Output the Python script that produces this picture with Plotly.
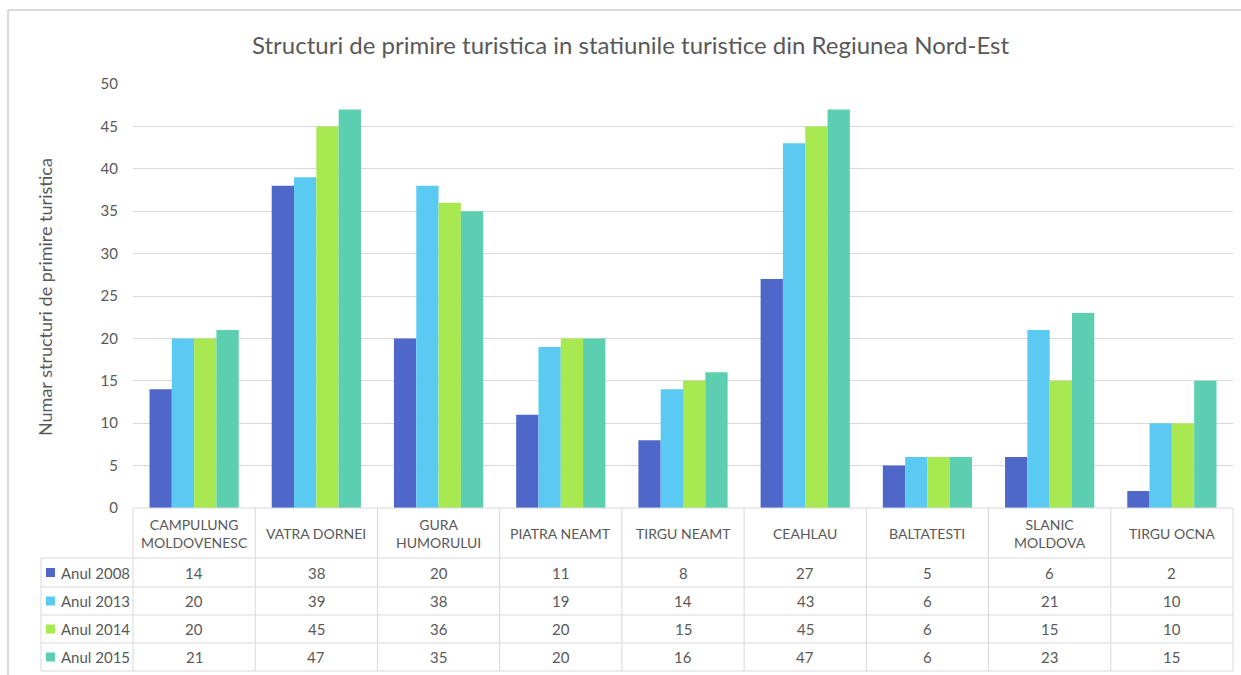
import plotly.graph_objects as go

# Data
categories = ["CAMPULUNG MOLDOVENESC", "VATRA DORNEI", "GURA HUMORULUI", "PIATRA NEAMT",
              "TIRGU NEAMT", "CEAHLAU", "BALTATESTI", "SLANIC MOLDOVA", "TIRGU OCNA"]
category_labels = ["CAMPULUNG<br>MOLDOVENESC", "VATRA DORNEI", "GURA<br>HUMORULUI", "PIATRA NEAMT",
                   "TIRGU NEAMT", "CEAHLAU", "BALTATESTI", "SLANIC<br>MOLDOVA", "TIRGU OCNA"]
series_names = ["Anul 2008", "Anul 2013", "Anul 2014", "Anul 2015"]
anul_2008 = [14, 38, 20, 11, 8, 27, 5, 6, 2]
anul_2013 = [20, 39, 38, 19, 14, 43, 6, 21, 10]
anul_2014 = [20, 45, 36, 20, 15, 45, 6, 15, 10]
anul_2015 = [21, 47, 35, 20, 16, 47, 6, 23, 15]
series_values = [anul_2008, anul_2013, anul_2014, anul_2015]
colors = ["#4F67C8", "#5BCAF2", "#A8E850", "#5BCFB0"]

W, H = 1241, 675
FONT = "Lato"
TXT = "#595959"
GRID = "#D9D9D9"


def px(x):
    return x / W


def py(y):
    return 1 - y / H


# Layout geometry (pixels)
PLOT_L, PLOT_R = 133, 1233
AXIS_Y, TOP_Y = 508, 84
HEADER_B = 558
ROW_LINES = [558, 587, 615, 643, 671]
LEG_L = 41

fig = go.Figure()
for name, vals, col in zip(series_names, series_values, colors):
    fig.add_trace(go.Bar(x=categories, y=vals, name=name, marker=dict(color=col, line=dict(width=0)),
                         showlegend=False))

shapes = []
# outer chart border
shapes.append(dict(type="line", xref="paper", yref="paper", x0=px(8), x1=1, y0=py(10), y1=py(10),
                   line=dict(color=GRID, width=2)))
shapes.append(dict(type="line", xref="paper", yref="paper", x0=px(8), x1=px(8), y0=py(10), y1=0,
                   line=dict(color=GRID, width=2)))
# table horizontal lines
shapes.append(dict(type="line", xref="paper", yref="paper", x0=px(PLOT_L), x1=px(PLOT_R),
                   y0=py(AXIS_Y), y1=py(AXIS_Y), line=dict(color=GRID, width=1)))
for yl in ROW_LINES:
    shapes.append(dict(type="line", xref="paper", yref="paper", x0=px(LEG_L), x1=px(PLOT_R),
                       y0=py(yl), y1=py(yl), line=dict(color=GRID, width=1)))
# table vertical lines
col_w = (PLOT_R - PLOT_L) / len(categories)
for i in range(len(categories) + 1):
    xl = PLOT_L + i * col_w
    shapes.append(dict(type="line", xref="paper", yref="paper", x0=px(xl), x1=px(xl),
                       y0=py(AXIS_Y), y1=py(ROW_LINES[-1]), line=dict(color=GRID, width=1)))
shapes.append(dict(type="line", xref="paper", yref="paper", x0=px(LEG_L), x1=px(LEG_L),
                   y0=py(HEADER_B), y1=py(ROW_LINES[-1]), line=dict(color=GRID, width=1)))

annotations = []
# category header cells
for cat, lab in zip(categories, category_labels):
    annotations.append(dict(x=cat, xref="x", y=py((AXIS_Y + HEADER_B) / 2), yref="paper",
                            text=lab, showarrow=False, xanchor="center", yanchor="middle",
                            font=dict(family=FONT, size=14, color=TXT)))
# data rows with legend keys
for r, (name, vals, col) in enumerate(zip(series_names, series_values, colors)):
    yc = (ROW_LINES[r] + ROW_LINES[r + 1]) / 2
    shapes.append(dict(type="rect", xref="paper", yref="paper", x0=px(46), x1=px(55),
                       y0=py(yc - 4.5), y1=py(yc + 4.5), fillcolor=col, line=dict(width=0)))
    annotations.append(dict(x=px(59), xref="paper", y=py(yc), yref="paper", text=name,
                            showarrow=False, xanchor="left", yanchor="middle",
                            font=dict(family=FONT, size=15, color=TXT)))
    for cat, v in zip(categories, vals):
        annotations.append(dict(x=cat, xref="x", y=py(yc), yref="paper", text=str(v),
                                showarrow=False, xanchor="center", yanchor="middle",
                                font=dict(family=FONT, size=15, color=TXT)))
# y axis title
annotations.append(dict(x=px(45), xref="paper", y=py(297), yref="paper",
                        text="Numar structuri de primire turistica", textangle=-90, showarrow=False,
                        xanchor="center", yanchor="middle", font=dict(family=FONT, size=18, color=TXT)))
# chart title
annotations.append(dict(x=px(630), xref="paper", y=py(44), yref="paper",
                        text="Structuri de primire turistica in statiunile turistice din Regiunea Nord-Est",
                        showarrow=False, xanchor="center", yanchor="middle",
                        font=dict(family=FONT, size=24, color=TXT)))

fig.update_layout(
    template="none",
    width=W, height=H,
    margin=dict(l=0, r=0, t=0, b=0, pad=0, autoexpand=False),
    paper_bgcolor="white", plot_bgcolor="white",
    barmode="group", bargap=0.27, bargroupgap=0,
    xaxis=dict(domain=[px(PLOT_L), px(PLOT_R)], showticklabels=False, ticks="", automargin=False,
               showgrid=False, showline=False, zeroline=False),
    yaxis=dict(domain=[py(AXIS_Y), py(TOP_Y)], range=[0, 50], dtick=5, showgrid=True, automargin=False,
               gridcolor=GRID, gridwidth=1, zeroline=False, showline=False, ticks="",
               ticklabelstandoff=14, tickfont=dict(family=FONT, size=15, color=TXT)),
    shapes=shapes, annotations=annotations,
)

fig.write_html("out.html")
